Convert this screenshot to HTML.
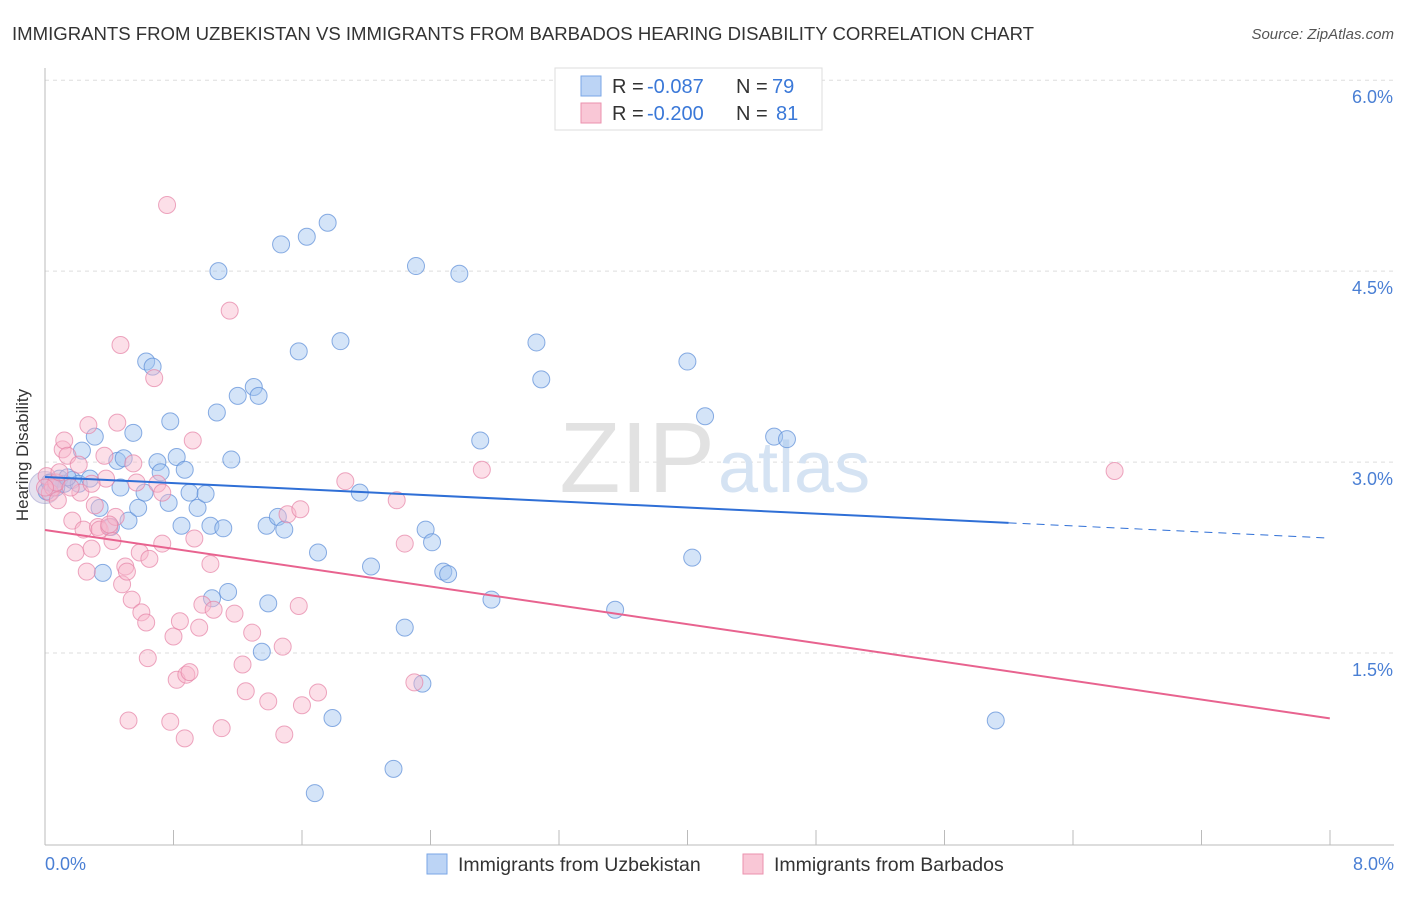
<!DOCTYPE html>
<html><head><meta charset="utf-8"><style>
body{margin:0;background:#fff;font-family:"Liberation Sans",sans-serif}
svg text{font-family:"Liberation Sans",sans-serif}
</style></head><body>
<svg width="1406" height="892">
<text x="12" y="40" font-size="18.6" fill="#333" textLength="1022">IMMIGRANTS FROM UZBEKISTAN VS IMMIGRANTS FROM BARBADOS HEARING DISABILITY CORRELATION CHART</text>
<text x="1394" y="39" font-size="15" fill="#555" font-style="italic" text-anchor="end">Source: ZipAtlas.com</text>
<g id="grid"></g>
<text x="715" y="492" font-size="100" fill="#e2e2e2" text-anchor="end" font-family="Liberation Serif">ZIP</text>
<text x="718" y="492" font-size="72" fill="#d5e3f3">atlas</text>
<g id="pts"></g>
<g id="lines"></g>
<text x="28" y="455" font-size="17" fill="#333" text-anchor="middle" transform="rotate(-90 28 455)">Hearing Disability</text>
<text x="45" y="870" font-size="18" fill="#4a7fd4">0.0%</text>
<text x="1394" y="870" font-size="18" fill="#4a7fd4" text-anchor="end">8.0%</text>
<g>
<rect x="555" y="68" width="267" height="62" fill="#fff" stroke="#ddd"/>
<rect x="581" y="76" width="20" height="20" fill="#bcd4f5" stroke="#7aa6e6"/>
<rect x="581" y="103" width="20" height="20" fill="#f9c7d6" stroke="#eb92ae"/>
<text x="612" y="93" font-size="20" fill="#333">R =</text>
<text x="647" y="93" font-size="20" fill="#3a78d8">-0.087</text>
<text x="736" y="93" font-size="20" fill="#333">N =</text>
<text x="772" y="93" font-size="20" fill="#3a78d8">79</text>
<text x="612" y="120" font-size="20" fill="#333">R =</text>
<text x="647" y="120" font-size="20" fill="#3a78d8">-0.200</text>
<text x="736" y="120" font-size="20" fill="#333">N =</text>
<text x="776" y="120" font-size="20" fill="#3a78d8">81</text>
</g>
<g>
<rect x="427" y="854" width="20" height="20" fill="#bcd4f5" stroke="#7aa6e6"/>
<text x="458" y="871" font-size="19.5" fill="#333">Immigrants from Uzbekistan</text>
<rect x="743" y="854" width="20" height="20" fill="#f9c7d6" stroke="#eb92ae"/>
<text x="774" y="871" font-size="19.5" fill="#333">Immigrants from Barbados</text>
</g>
</svg>
<script>
const yTicks=[1.5,3.0,4.5,6.0];
const xTicks=[0,1,2,3,4,5,6,7,8,9,10];
const blueTrend=[2.883,-0.06];
const pinkTrend=[2.467,-0.185];
const blueX=[0.01,0.04,0.09,0.12,0.17,0.21,0.23,0.28,0.31,0.34,0.36,0.41,0.45,0.47,0.49,0.52,0.55,0.58,0.62,0.63,0.67,0.70,0.72,0.77,0.78,0.82,0.85,0.87,0.90,0.95,1.00,1.03,1.04,1.07,1.08,1.11,1.14,1.16,1.20,1.30,1.33,1.35,1.38,1.39,1.45,1.47,1.49,1.58,1.63,1.70,1.76,1.79,1.84,1.68,1.96,2.03,2.17,2.24,2.31,2.35,2.37,2.41,2.48,2.51,2.58,2.71,2.78,3.06,3.09,3.55,4.00,4.03,4.11,4.54,4.62,5.92,0.03,0.07,0.14];
const blueY=[2.77,2.84,2.87,2.83,2.86,2.83,3.09,2.87,3.20,2.64,2.13,2.49,3.01,2.80,3.03,2.54,3.23,2.64,2.76,3.79,3.75,3.00,2.92,2.68,3.32,3.04,2.50,2.94,2.76,2.64,2.75,2.50,1.93,3.39,4.50,2.48,1.98,3.02,3.52,3.59,3.52,1.51,2.50,1.89,2.57,4.71,2.47,3.87,4.77,2.29,4.88,0.99,3.95,0.40,2.76,2.18,0.59,1.70,4.54,1.26,2.47,2.37,2.14,2.12,4.48,3.17,1.92,3.94,3.65,1.84,3.79,2.25,3.36,3.20,3.18,0.97,2.84,2.80,2.88];
const pinkX=[0.01,0.03,0.05,0.07,0.09,0.11,0.12,0.14,0.17,0.19,0.21,0.22,0.24,0.26,0.27,0.29,0.31,0.33,0.34,0.37,0.38,0.40,0.42,0.44,0.45,0.47,0.48,0.50,0.51,0.52,0.54,0.55,0.57,0.59,0.60,0.63,0.64,0.68,0.70,0.73,0.73,0.76,0.78,0.80,0.82,0.84,0.87,0.88,0.90,0.92,0.93,0.96,0.98,1.03,1.05,1.10,1.15,1.18,1.23,1.25,1.29,1.39,1.48,1.49,1.51,1.58,1.59,1.60,1.70,1.87,2.19,2.24,2.30,2.72,6.66,0.08,0.16,0.29,0.00,0.40,0.65];
const pinkY=[2.89,2.76,2.80,2.84,2.92,3.10,3.17,3.05,2.54,2.29,2.98,2.76,2.47,2.14,3.29,2.32,2.66,2.49,2.47,3.05,2.87,2.49,2.38,2.57,3.31,3.92,2.04,2.18,2.14,0.97,1.92,2.99,2.84,2.29,1.82,1.74,1.46,3.66,2.83,2.76,2.36,5.02,0.96,1.63,1.29,1.75,0.83,1.33,1.35,3.17,2.40,1.70,1.88,2.20,1.84,0.91,4.19,1.81,1.41,1.20,1.66,1.12,1.55,0.86,2.59,1.87,2.63,1.09,1.19,2.85,2.70,2.36,1.27,2.94,2.93,2.70,2.80,2.83,2.80,2.51,2.24];
const sx=v=>45+v*160.6, sy=v=>844-v*127.3;
const NS='http://www.w3.org/2000/svg';
function mk(t,a,p){const e=document.createElementNS(NS,t);for(const k in a)e.setAttribute(k,a[k]);p.appendChild(e);return e;}
const grid=document.getElementById('grid');
yTicks.forEach(v=>{
 const l=mk('line',{x1:45,x2:1394,y1:sy(v),y2:sy(v),stroke:'#ddd','stroke-dasharray':'4,4'},grid);
 
 
 const t=mk('text',{x:1393,y:sy(v)+23,'font-size':18,fill:'#4a7fd4','text-anchor':'end'},grid);t.textContent=v.toFixed(1)+'%';
 
 
});
const ax=mk('line',{x1:45,x2:1394,y1:845,y2:845,stroke:'#bbb'},grid);


const ay=mk('line',{x1:45,x2:45,y1:68,y2:845,stroke:'#bbb'},grid);


xTicks.forEach(v=>{const x=45+v*128.5;if(x>1394)return;
 const l=mk('line',{x1:x,x2:x,y1:830,y2:845,stroke:'#bbb'},grid);
 
 });
const pts=document.getElementById('pts');
const big=mk('circle',{cx:sx(0.0),cy:sy(2.80),r:16,fill:'rgba(180,170,210,0.35)',stroke:'rgba(150,150,200,0.5)'},pts);


function draw(X,Y,fill,stroke,name){X.forEach((x,i)=>{
 const c=mk('circle',{cx:sx(x),cy:sy(Y[i]),r:8.5,fill:fill,stroke:stroke,'stroke-width':1},pts);
 
 });}
draw(blueX,blueY,'rgba(160,195,240,0.45)','rgba(90,140,215,0.7)','uzbekistan-point');
draw(pinkX,pinkY,'rgba(248,185,205,0.45)','rgba(230,130,165,0.7)','barbados-point');
const lines=document.getElementById('lines');
const [ba,bb]=blueTrend, [pa,pb]=pinkTrend;
let l=mk('line',{x1:sx(0),y1:sy(ba),x2:sx(6.0),y2:sy(ba+bb*6.0),stroke:'#2f6fd6','stroke-width':2},lines);


l=mk('line',{x1:sx(6.0),y1:sy(ba+bb*6.0),x2:sx(8),y2:sy(ba+bb*8),stroke:'#2f6fd6','stroke-width':1,'stroke-dasharray':'8,6'},lines);


l=mk('line',{x1:sx(0),y1:sy(pa),x2:sx(8),y2:sy(pa+pb*8),stroke:'#e8638f','stroke-width':2},lines);


</script>
</body></html>
